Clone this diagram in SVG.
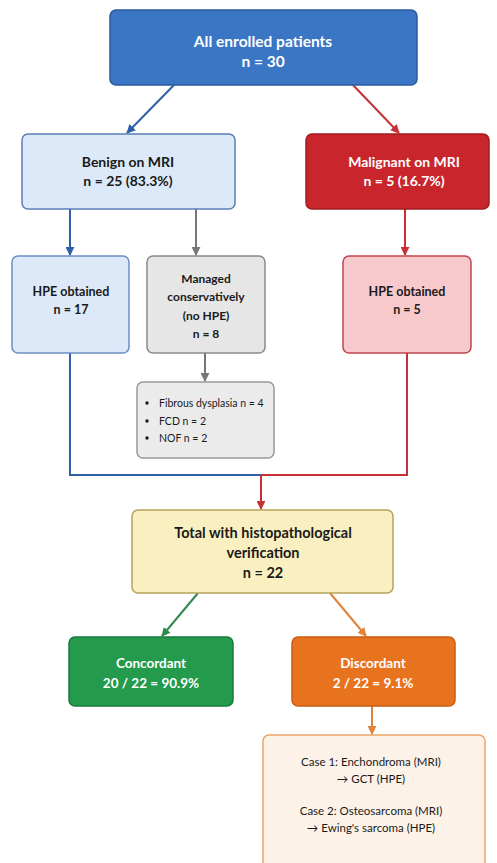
<svg xmlns="http://www.w3.org/2000/svg" width="497" height="863" viewBox="0 0 497 863">
<style>
text{font-family:Lato,"Open Sans","Liberation Sans",sans-serif;text-anchor:middle}
.b{font-weight:bold}
.w{fill:#fff}
.k{fill:#1a1a1a}
.c{fill:none;stroke-width:2}
</style>
<defs>
<marker id="mb" viewBox="0 0 10 10" refX="9" refY="5" markerWidth="4.5" markerHeight="4.5" orient="auto"><path d="M0,0L10,5L0,10z" fill="#2f5fa7"/></marker>
<marker id="mr" viewBox="0 0 10 10" refX="9" refY="5" markerWidth="4.5" markerHeight="4.5" orient="auto"><path d="M0,0L10,5L0,10z" fill="#c62f36"/></marker>
<marker id="mg" viewBox="0 0 10 10" refX="9" refY="5" markerWidth="4.5" markerHeight="4.5" orient="auto"><path d="M0,0L10,5L0,10z" fill="#777"/></marker>
<marker id="mgr" viewBox="0 0 10 10" refX="9" refY="5" markerWidth="4.5" markerHeight="4.5" orient="auto"><path d="M0,0L10,5L0,10z" fill="#2f8a4f"/></marker>
<marker id="mo" viewBox="0 0 10 10" refX="9" refY="5" markerWidth="4.5" markerHeight="4.5" orient="auto"><path d="M0,0L10,5L0,10z" fill="#e0833a"/></marker>
</defs>
<rect width="497" height="863" fill="#fff"/>
<g id="connectors">
<line class="c" x1="174" y1="85" x2="127" y2="133" stroke="#2f5fa7" marker-end="url(#mb)"/>
<line class="c" x1="353" y1="85" x2="399" y2="133" stroke="#c62f36" marker-end="url(#mr)"/>
<line class="c" x1="70" y1="209" x2="70" y2="255" stroke="#2f5fa7" marker-end="url(#mb)"/>
<line class="c" x1="196" y1="209" x2="196" y2="255" stroke="#777" marker-end="url(#mg)"/>
<line class="c" x1="405" y1="209" x2="405" y2="255" stroke="#c62f36" marker-end="url(#mr)"/>
<line class="c" x1="205" y1="353" x2="205" y2="381" stroke="#777" marker-end="url(#mg)"/>
<polyline class="c" points="70,353 70,475 261,475" stroke="#2f5fa7"/>
<polyline class="c" points="407,353 407,475 261,475" stroke="#c62f36"/>
<line class="c" x1="261" y1="475" x2="261" y2="509" stroke="#c62f36" marker-end="url(#mr)"/>
<line class="c" x1="198" y1="593" x2="162" y2="636" stroke="#2f8a4f" marker-end="url(#mgr)"/>
<line class="c" x1="330" y1="593" x2="366" y2="636" stroke="#e0833a" marker-end="url(#mo)"/>
<line class="c" x1="372" y1="706" x2="372" y2="734" stroke="#e0833a" marker-end="url(#mo)"/>
</g>
<g id="all">
<rect x="110" y="10" width="307" height="75" rx="6" fill="#3b76c5" stroke="#2a5a9e" stroke-width="1.5"/>
<text x="263" y="47" class="b w" font-size="15.5">All enrolled patients</text>
<text x="263" y="67" class="b w" font-size="15.5">n = 30</text>
</g>
<g id="benign">
<rect x="22" y="134" width="213" height="75" rx="6" fill="#dce9f8" stroke="#5b7fb5" stroke-width="1.5"/>
<text x="128" y="167" class="b k" font-size="14">Benign on MRI</text>
<text x="128" y="186" class="b k" font-size="14">n = 25 (83.3%)</text>
</g>
<g id="malignant">
<rect x="306" y="134" width="183" height="75" rx="6" fill="#c8262c" stroke="#a01c20" stroke-width="1.5"/>
<text x="404" y="167" class="b w" font-size="14">Malignant on MRI</text>
<text x="404" y="186" class="b w" font-size="14">n = 5 (16.7%)</text>
</g>
<g id="hpe-benign">
<rect x="12" y="256" width="117" height="97" rx="6" fill="#dde9f8" stroke="#6a8fc4" stroke-width="1.5"/>
<text x="71" y="296" class="b k" font-size="12.5">HPE obtained</text>
<text x="71" y="314" class="b k" font-size="12.5">n = 17</text>
</g>
<g id="managed">
<rect x="147" y="256" width="118" height="97" rx="6" fill="#e6e6e6" stroke="#8a8a8a" stroke-width="1.5"/>
<text x="206" y="283" class="b k" font-size="12">Managed</text>
<text x="206" y="301" class="b k" font-size="12">conservatively</text>
<text x="206" y="320" class="b k" font-size="12">(no HPE)</text>
<text x="206" y="338" class="b k" font-size="12">n = 8</text>
</g>
<g id="hpe-malignant">
<rect x="343" y="256" width="128" height="97" rx="6" fill="#f8c9cc" stroke="#c0454c" stroke-width="1.5"/>
<text x="407" y="296" class="b k" font-size="12.5">HPE obtained</text>
<text x="407" y="314" class="b k" font-size="12.5">n = 5</text>
</g>
<g id="list">
<rect x="137" y="382" width="137" height="76" rx="6" fill="#ebebeb" stroke="#999" stroke-width="1.5"/>
<circle cx="147" cy="403" r="1.7" fill="#1a1a1a"/>
<circle cx="147" cy="421" r="1.7" fill="#1a1a1a"/>
<circle cx="147" cy="438" r="1.7" fill="#1a1a1a"/>
<text x="159" y="407" class="k" font-size="10.5" style="text-anchor:start">Fibrous dysplasia n = 4</text>
<text x="159" y="425" class="k" font-size="10.5" style="text-anchor:start">FCD n = 2</text>
<text x="159" y="442" class="k" font-size="10.5" style="text-anchor:start">NOF n = 2</text>
</g>
<g id="total">
<rect x="132" y="510" width="261" height="83" rx="6" fill="#faefc0" stroke="#b5a35c" stroke-width="1.5"/>
<text x="263" y="538" class="b k" font-size="14.5">Total with histopathological</text>
<text x="263" y="558" class="b k" font-size="14.5">verification</text>
<text x="263" y="578" class="b k" font-size="14.5">n = 22</text>
</g>
<g id="concordant">
<rect x="69" y="637" width="164" height="69" rx="6" fill="#239a4c" stroke="#1a7a3a" stroke-width="1.5"/>
<text x="151" y="668" class="b w" font-size="13.5">Concordant</text>
<text x="151" y="688" class="b w" font-size="13.5">20 / 22 = 90.9%</text>
</g>
<g id="discordant">
<rect x="292" y="637" width="163" height="69" rx="6" fill="#e8731f" stroke="#c85e12" stroke-width="1.5"/>
<text x="373" y="668" class="b w" font-size="13.5">Discordant</text>
<text x="373" y="688" class="b w" font-size="13.5">2 / 22 = 9.1%</text>
</g>
<g id="cases">
<rect x="263" y="735" width="222" height="135" rx="6" fill="#fdf2e8" stroke="#eaa56a" stroke-width="1.5"/>
<text x="371" y="766" class="k" font-size="11.5">Case 1: Enchondroma (MRI)</text>
<text x="371" y="783" class="k" font-size="11.5">→ GCT (HPE)</text>
<text x="371" y="815" class="k" font-size="11.5">Case 2: Osteosarcoma (MRI)</text>
<text x="371" y="832" class="k" font-size="11.5">→ Ewing's sarcoma (HPE)</text>
</g>
</svg>
